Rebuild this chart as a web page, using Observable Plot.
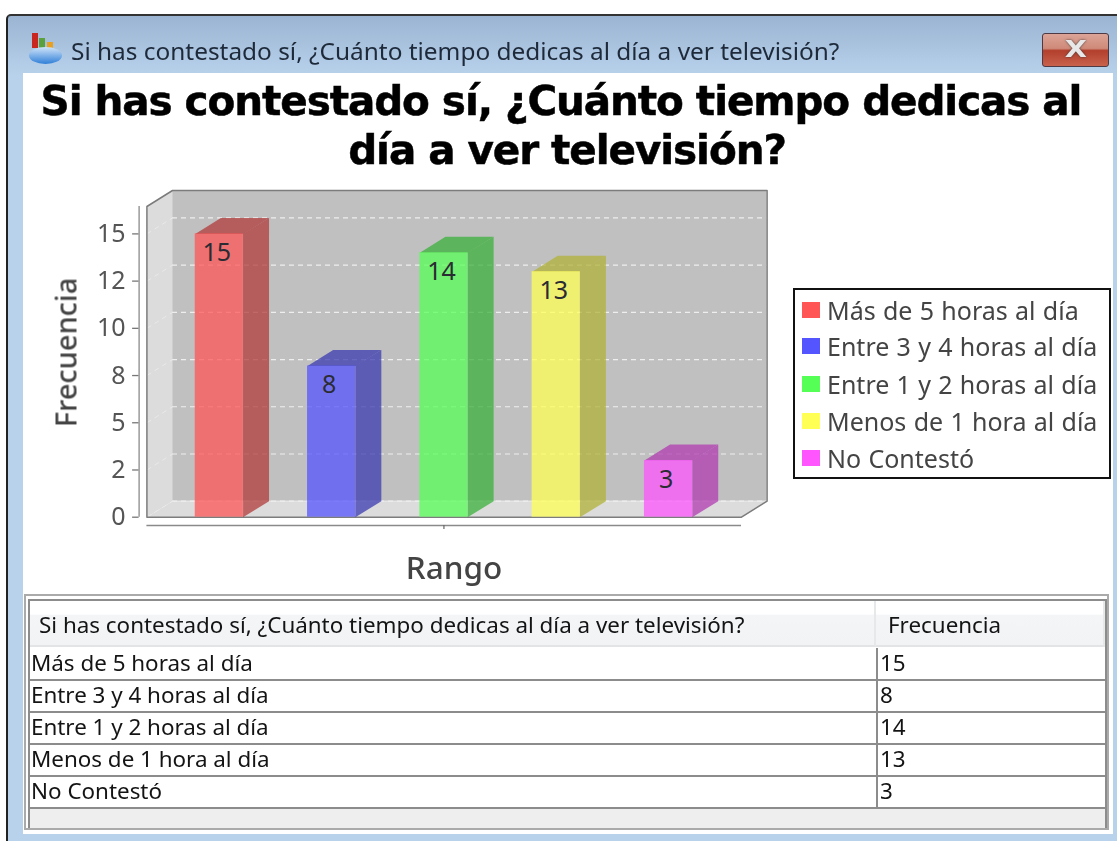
<!DOCTYPE html>
<html lang="es">
<head>
<meta charset="utf-8">
<script src="https://cdn.jsdelivr.net/npm/d3@7"></script>
<script src="https://cdn.jsdelivr.net/npm/@observablehq/plot@0.6"></script>
<style>
html,body{margin:0;padding:0;background:#fff;}
body{width:1117px;height:841px;position:relative;overflow:hidden;font-family:"Noto Sans",sans-serif;}
.abs{position:absolute;white-space:nowrap;}
#win{left:6px;top:14px;width:1111px;height:827px;background:linear-gradient(#9ab4d2 0,#b9d2ec 60px,#b9d2ec 100%);border-top:2px solid #333;border-left:2px solid #222;box-sizing:border-box;border-top-left-radius:5px;}
#content{left:23px;top:73px;width:1090px;height:761px;background:#fff;}
#wtitle{left:71px;top:37px;font-size:24.4px;line-height:28px;color:#1e2a3a;filter:blur(.35px);}
#close{left:1042px;top:33px;width:67px;height:34px;box-sizing:border-box;border:1.5px solid #4d3a44;border-radius:3px;background:linear-gradient(#dba497 0,#cf8a79 45%,#b23f2c 52%,#c9624d 100%);color:#e8e8e8;font:bold 23px/30px "DejaVu Sans";text-align:center;text-shadow:0 0 2px #333;transform-origin:center;}
#close span{display:inline-block;transform:scaleX(1.25);}
.title{left:23px;width:1090px;text-align:center;font-family:"DejaVu Sans";font-weight:bold;color:#000;filter:blur(.4px);letter-spacing:-1.08px;-webkit-text-stroke:.5px #000;}
#legend{left:793px;top:288px;width:318px;height:191px;box-sizing:border-box;border:2px solid #111;background:#fff;}
.lgs{position:absolute;width:18px;height:16px;}
.lgt{position:absolute;font-size:25px;word-spacing:.8px;line-height:30px;color:#444;white-space:nowrap;filter:blur(.3px);}
#tbl{left:24px;top:594px;width:1085px;height:236px;box-sizing:border-box;border:2px solid #aaa;background:#fff;}
#tblin{left:28px;top:599px;width:1079px;height:229px;box-sizing:border-box;border:2px solid #8c8c8c;background:#fff;}
.th{background:linear-gradient(#fff 0,#fff 30%,#f3f5f7 32%,#f1f3f5 100%);border-bottom:2px solid #e2e4e6;border-right:2px solid #e6e8ea;box-sizing:border-box;}
.cell{font-size:22.4px;line-height:28px;color:#141414;filter:blur(.25px);}
.hl{background:#8c8c8c;height:2px;}
svg{position:absolute;left:23px;top:175px;filter:blur(.35px);}
</style>
</head>
<body>
<div class="abs" id="win"></div>
<div class="abs" id="content"></div>
<div class="abs" style="left:32px;top:33px;width:6px;height:15px;background:#c8261e"></div>
<div class="abs" style="left:39px;top:38px;width:6px;height:10px;background:#5aa03c"></div>
<div class="abs" style="left:47px;top:42px;width:6px;height:6px;background:#e8a020"></div>
<div class="abs" style="left:29px;top:47px;width:33px;height:17px;border-radius:50%;background:linear-gradient(#cfe4f8,#2f7fd8)"></div>
<div class="abs" id="wtitle"></div>
<div class="abs" id="close"><span>X</span></div>
<div class="abs title" id="t1" style="left:16px;top:75px;font-size:40.5px;line-height:52px"></div>
<div class="abs title" id="t2" style="left:22px;top:124px;font-size:40.5px;line-height:52px"></div>
<div class="abs" id="legend"></div>
<div class="abs" id="tbl"></div>
<div class="abs" id="tblin"></div>
<div id="tablecells"></div>
<script>
const categories = ["Más de 5 horas al día","Entre 3 y 4 horas al día","Entre 1 y 2 horas al día","Menos de 1 hora al día","No Contestó"];
const frequencies = [15,8,14,13,3];
const legendColors = ["#ff5555","#5555ff","#55ff55","#ffff55","#ff55ff"];
const darkColors = ["#b23b3b","#3b3bb2","#3bb23b","#b2b23b","#b23bb2"];
const tickValues = [0,2.5,5,7.5,10,12.5,15];
const tickLabels = ["0","2","5","8","10","12","15"];
const titleText = "Si has contestado sí, ¿Cuánto tiempo dedicas al día a ver televisión?";
const titleLines = ["Si has contestado sí, ¿Cuánto tiempo dedicas al","día a ver televisión?"];
const colHeader = "Frecuencia";
const xLabel = "Rango", yLabel = "Frecuencia";

document.getElementById("wtitle").textContent = titleText;
document.getElementById("t1").textContent = titleLines[0];
document.getElementById("t2").textContent = titleLines[1];

// Legend
const lg = document.getElementById("legend");
const lgY = [310,346,384,421,458];
categories.forEach((c,i)=>{
  const s=document.createElement("div"); s.className="lgs"; s.style.cssText=`left:7px;top:${lgY[i]-8-290}px;background:${legendColors[i]}`; lg.appendChild(s);
  const t=document.createElement("div"); t.className="lgt"; t.textContent=c; t.style.cssText=`left:32px;top:${lgY[i]-15-290}px`; lg.appendChild(t);
});

// Table
const tc=document.getElementById("tablecells");
function add(cls,css,txt){const d=document.createElement("div");d.className="abs "+cls;d.style.cssText=css;if(txt!=null)d.textContent=txt;tc.appendChild(d);}
add("th","left:30px;top:601px;width:846px;height:46px");
add("th","left:876px;top:601px;width:229px;height:46px");
add("cell","left:39px;top:611px",titleText);
add("cell","left:888px;top:611px",colHeader);
const rowLines=[680,712,744,776,808];
rowLines.forEach(y=>add("hl",`left:30px;top:${y-1}px;width:1075px`));
add("","left:30px;top:809px;width:1075px;height:19px;background:#eeeeee");
add("","left:876px;top:648px;width:2px;height:160px;background:#8c8c8c");
add("","left:1105px;top:648px;width:2px;height:160px;background:#8c8c8c");
categories.forEach((c,i)=>{
  add("cell",`left:31px;top:${rowLines[i]-31}px`,c);
  add("cell",`left:880px;top:${rowLines[i]-31}px`,String(frequencies[i]));
});

// Chart scales: category index on x, frequency on y, sheared for the 3D depth
const ox=23, oy=175;
const pxPerCat=112.3, pxPerVal=18.88;
const depthX=25.6/pxPerCat, depthY=16/pxPerVal, half=24.1/pxPerCat, seam=0.4/pxPerCat;
const xLo=-0.645, xFrontHi=xLo+594.6/pxPerCat, xHi=xFrontHi+depthX;
const yFrontHi=16.45, yHi=yFrontHi+depthY;
const axisXv=xLo-7.8/pxPerCat, catAxisY=-8.3/pxPerVal;

const rows=frequencies.map((v,i)=>({i,v,cat:categories[i],base:legendColors[i],dark:darkColors[i]}));
const poly=(key,fill,pts)=>pts.map(([x,y])=>({key,fill,x,y}));
const sides=rows.flatMap(d=>poly("s"+d.i,d.dark,[[d.i+half-seam,0],[d.i+half+depthX,depthY],[d.i+half+depthX,d.v+depthY],[d.i+half-seam,d.v]]));
const tops=rows.flatMap(d=>poly("t"+d.i,d.dark,[[d.i-half,d.v],[d.i-half+depthX,d.v+depthY],[d.i+half+depthX,d.v+depthY],[d.i+half,d.v]]));
const leftWall=poly("l","#dcdcdc",[[xLo,0],[xLo+depthX,depthY],[xLo+depthX,yHi],[xLo,yFrontHi]]);
const floor=poly("f","#dcdcdc",[[xLo,0],[xLo+depthX,depthY],[xHi,depthY],[xFrontHi,0]]);
const outline=[[xLo,0],[xLo,yFrontHi],[xLo+depthX,yHi],[xHi,yHi],[xHi,depthY],[xFrontHi,0],[xLo,0]].map(([x,y])=>({x,y}));
const grid=tickValues;

const chart=Plot.plot({
  width:770,height:415,
  marginLeft:138.6-ox,marginTop:0,marginRight:0,marginBottom:0,
  x:{domain:[xLo,xHi],range:[146.4-ox,766.6-ox],axis:null},
  y:{domain:[0,yHi],range:[516.7-oy,190-oy],axis:null},
  color:{type:"identity"},
  style:{background:"transparent",overflow:"visible",fontFamily:"'Noto Sans'"},
  marks:[
    Plot.rect([0],{x1:xLo+depthX,x2:xHi,y1:depthY,y2:yHi,fill:"#c0c0c0"}),
    Plot.line(leftWall,{x:"x",y:"y",z:"key",fill:"fill",stroke:null}),
    Plot.line(floor,{x:"x",y:"y",z:"key",fill:"fill",stroke:null}),
    Plot.ruleY(grid,{y:d=>d+depthY,x1:xLo+depthX,x2:xHi,stroke:"#eeeeee",strokeWidth:1.2,strokeDasharray:"5,4"}),
    Plot.link(grid,{x1:xLo,y1:d=>d,x2:xLo+depthX,y2:d=>d+depthY,stroke:"#e9e9e9",strokeWidth:1,strokeDasharray:"5,4"}),
    Plot.line(outline,{x:"x",y:"y",stroke:"#7c7c7c",strokeWidth:1.5}),
    Plot.line(sides,{x:"x",y:"y",z:"key",fill:"fill",stroke:null,fillOpacity:.75}),
    Plot.line(tops,{x:"x",y:"y",z:"key",fill:"fill",stroke:null,fillOpacity:.75}),
    Plot.rect(rows,{x1:d=>d.i-half,x2:d=>d.i+half,y1:0,y2:"v",fill:"base",fillOpacity:.75}),
    Plot.text(rows,{x:"i",y:"v",text:d=>String(d.v),dx:-2.5,dy:19,fontSize:25,fill:"#2b2b33"}),
    Plot.axisY(tickValues,{anchor:"left",tickSize:6.5,tickPadding:7,tickFormat:(d,i)=>tickLabels[i],fontSize:25,stroke:"#777",fill:"#555",strokeWidth:1.3,label:null}),
    Plot.ruleX([axisXv],{y1:0,y2:yFrontHi,stroke:"#8a8a8a",strokeWidth:1.3}),
    Plot.ruleY([catAxisY],{x1:xLo,x2:xFrontHi,stroke:"#8a8a8a",strokeWidth:1.5}),
    Plot.ruleX([2],{y1:catAxisY,y2:catAxisY-4/pxPerVal,stroke:"#666",strokeWidth:1.2}),
    Plot.text([xLabel],{x:2.09,y:-51.5/pxPerVal,text:d=>d,fontSize:31.5,fontWeight:500,fill:"#444"}),
    Plot.text([yLabel],{x:(67-146.4)/pxPerCat+xLo,y:(516.7-352)/pxPerVal,text:d=>d,rotate:-90,fontSize:29,fontWeight:500,fill:"#444"})
  ]
});
document.body.appendChild(chart);
</script>
</body>
</html>
